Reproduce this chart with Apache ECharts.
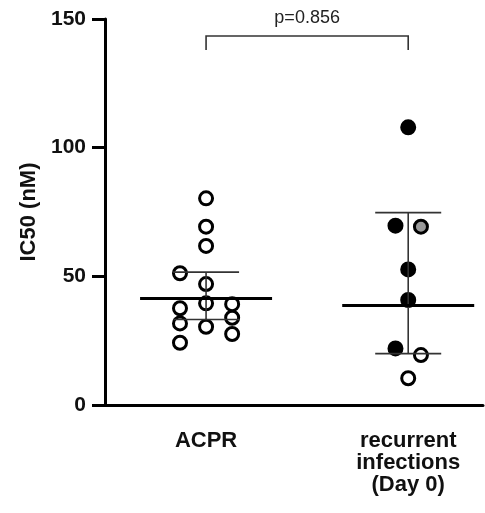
<!DOCTYPE html>
<html>
    <head>
        <meta charset="utf-8">
        <script src="https://cdn.jsdelivr.net/npm/echarts@6/dist/echarts.min.js"></script>
        <style>
            html, body {
                margin: 0;
                padding: 0;
                background: #fff;
            }
            #main {
                width: 485px;
                height: 513px;
            }
        </style>
    </head>
    <body>
        <div id="main"></div>

        <script>

            // groups on the x axis (1 = ACPR, 2 = recurrent infections)
            var groupLabels = ['ACPR', 'recurrent\ninfections\n(Day 0)'];

            // IC50 (nM) per sample
            var acprValues = [80.3, 69.3, 61.8, 51.2, 47.0, 39.5, 39.2, 37.6, 33.9, 31.7, 30.4, 27.6, 24.2];
            // swarm column of each dot (-1 left, 0 middle, 1 right)
            var acprLane = [0, 0, 0, -1, 0, 0, 1, -1, 1, -1, 0, 1, -1];

            var recValues = [107.9, 69.7, 69.3, 52.7, 40.8, 22.0, 19.4, 10.4];
            var recLane = [0, -1, 1, 0, 0, -1, 1, 0];
            var recStatus = ['filled', 'filled', 'grey', 'filled', 'filled', 'filled', 'open', 'open'];

            var pText = 'p=0.856';

            var FONT = '"Liberation Sans", Arial, Helvetica, sans-serif';

            // geometric mean with 95% CI (two sided t)
            var tCrit = {7: 2.365, 12: 2.179};
            function geoStats(values) {
                var logs = values.map(function (v) { return Math.log(v); });
                var n = logs.length;
                var mean = logs.reduce(function (a, b) { return a + b; }, 0) / n;
                var ss = 0;
                logs.forEach(function (l) { ss += (l - mean) * (l - mean); });
                var sd = Math.sqrt(ss / (n - 1));
                var half = tCrit[n - 1] * sd / Math.sqrt(n);
                return [Math.exp(mean), Math.exp(mean - half), Math.exp(mean + half)];
            }

            var acprStats = geoStats(acprValues);
            var recStats = geoStats(recValues);

            var styles = {
                open: {color: '#fff', borderColor: '#000', borderWidth: 3, opacity: 1},
                grey: {color: '#9a9a9a', borderColor: '#000', borderWidth: 3, opacity: 1},
                filled: {color: '#000', borderColor: '#000', borderWidth: 3, opacity: 1}
            };

            var dots = [];
            acprValues.forEach(function (v, i) {
                dots.push({value: [1 + acprLane[i] * 0.129, v], itemStyle: styles.open});
            });
            recValues.forEach(function (v, i) {
                dots.push({value: [2 + recLane[i] * 0.063, v], itemStyle: styles[recStatus[i]]});
            });

            var chart = echarts.init(document.getElementById('main'));

            chart.setOption({
                animation: false,
                backgroundColor: '#fff',
                grid: {
                    left: 105,
                    right: 2,
                    top: 19,
                    bottom: 108
                },
                xAxis: {
                    type: 'value',
                    min: 0.5,
                    max: 2.37,
                    interval: 0.5,
                    splitLine: {show: false},
                    axisTick: {show: false},
                    axisLine: {lineStyle: {color: '#000', width: 3}},
                    axisLabel: {
                        margin: 25,
                        color: '#111',
                        fontFamily: FONT,
                        fontWeight: 'bold',
                        fontSize: 22,
                        lineHeight: 22,
                        showMaxLabel: false,
                        formatter: function (v) {
                            var i = Math.round(v);
                            if (Math.abs(v - i) > 1e-6 || !groupLabels[i - 1]) {
                                return '';
                            }
                            return groupLabels[i - 1];
                        }
                    }
                },
                yAxis: {
                    type: 'value',
                    min: 0,
                    max: 150,
                    interval: 50,
                    name: 'IC50 (nM)',
                    nameLocation: 'middle',
                    nameGap: 64,
                    nameTextStyle: {
                        color: '#111',
                        fontFamily: FONT,
                        fontWeight: 'bold',
                        fontSize: 22
                    },
                    splitLine: {show: false},
                    axisLine: {show: true, lineStyle: {color: '#000', width: 3}},
                    axisTick: {show: true, length: 13, lineStyle: {color: '#000', width: 3}},
                    axisLabel: {
                        margin: 19,
                        color: '#111',
                        fontFamily: FONT,
                        fontWeight: 'bold',
                        fontSize: 21
                    }
                },
                series: [{
                    type: 'scatter',
                    symbol: 'circle',
                    symbolSize: 13,
                    itemStyle: {opacity: 1},
                    data: dots,
                    z: 2
                }, {
                    // geometric mean line + 95% CI
                    type: 'custom',
                    z: 3,
                    data: [[1].concat(acprStats), [2].concat(recStats)],
                    renderItem: function (params, api) {
                        var x = api.value(0);
                        var m = api.coord([x, api.value(1)]);
                        var lo = api.coord([x, api.value(2)]);
                        var hi = api.coord([x, api.value(3)]);
                        var thin = {stroke: '#333', lineWidth: 1.6};
                        return {
                            type: 'group',
                            children: [{
                                type: 'line',
                                shape: {x1: lo[0], y1: lo[1], x2: hi[0], y2: hi[1]},
                                style: thin
                            }, {
                                type: 'line',
                                shape: {x1: lo[0] - 33, y1: lo[1], x2: lo[0] + 33, y2: lo[1]},
                                style: thin
                            }, {
                                type: 'line',
                                shape: {x1: hi[0] - 33, y1: hi[1], x2: hi[0] + 33, y2: hi[1]},
                                style: thin
                            }, {
                                type: 'line',
                                shape: {x1: m[0] - 66, y1: m[1], x2: m[0] + 66, y2: m[1]},
                                style: {stroke: '#000', lineWidth: 3}
                            }]
                        };
                    }
                }, {
                    // significance bracket
                    type: 'custom',
                    z: 3,
                    data: [[1, 2]],
                    renderItem: function (params, api) {
                        var a = api.coord([api.value(0), 143.4]);
                        var b = api.coord([api.value(1), 143.4]);
                        var drop = 14;
                        return {
                            type: 'group',
                            children: [{
                                type: 'polyline',
                                shape: {points: [[a[0], a[1] + drop], [a[0], a[1]], [b[0], b[1]], [b[0], b[1] + drop]]},
                                style: {stroke: '#333', lineWidth: 1.6, fill: null}
                            }, {
                                type: 'text',
                                style: {
                                    text: pText,
                                    x: (a[0] + b[0]) / 2,
                                    y: a[1] - 9,
                                    align: 'center',
                                    verticalAlign: 'bottom',
                                    fontFamily: FONT,
                                    fontSize: 18,
                                    fill: '#222'
                                }
                            }]
                        };
                    }
                }]
            });

        </script>
    </body>
</html>
